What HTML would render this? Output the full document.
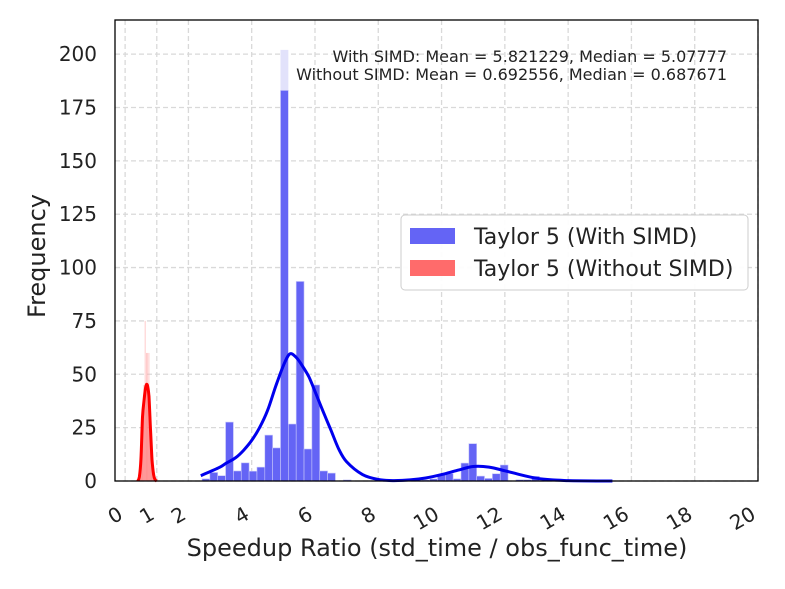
<!DOCTYPE html>
<html><head><meta charset="utf-8">
<style>
html,body{margin:0;padding:0;background:#fff;}
svg{display:block;font-family:"DejaVu Sans","Liberation Sans",sans-serif;}
</style></head>
<body>
<svg id="chart" width="785" height="589" viewBox="0 0 785 589" xmlns="http://www.w3.org/2000/svg"></svg>
<script>
const xTicks = [0,1,2,4,6,8,10,12,14,16,18,20];
const yTicks = [0,25,50,75,100,125,150,175,200];
const blueBinStart = 2.43;
const blueBinWidth = 0.248;
const blueCounts = [1,4,2.5,27.6,4.7,8.5,4.6,6.5,21.5,15.5,183,26.7,93.5,15,45,4.7,3.7,0,0.5,0,0,0,0,0,0,0,0,0,0.5,1,3,3.5,1,8.4,17.5,2.3,1.2,3.4,7.5,0,0.6,0.6,2.2,0.3];
const blueOverlayIndex = [10];
const blueOverlayValue = [202];
const redBinStart = 0.42;
const redBinWidth = 0.04;
const redCounts = [0,2,8,25,45,75,60,60,60,40,20,6,1,0];
const blueKdeX = [2.39,2.7,3.0,3.2,3.5,3.75,4.0,4.25,4.5,4.75,5.0,5.2,5.4,5.6,5.8,6.0,6.3,6.5,6.75,7.0,7.5,8.0,8.5,9.0,9.5,10.0,10.5,11.0,11.5,12.0,12.5,13.0,13.5,14.0,14.5,15.4];
const blueKdeY = [2.5,4.5,6.5,8.4,11,14.5,19,25,33,44,54,59.5,58,54,49,42,31,24,15,9,3,0.7,0.2,0.5,1.4,3,5,6.8,6.5,4.8,2.9,1.3,0.5,0.2,0.05,0];
const redKdeX = [0.4,0.45,0.5,0.55,0.6,0.65,0.7,0.75,0.8,0.85,0.9,0.95,1.0];
const redKdeY = [0,2,10,30,38,44,45,40,25,10,3,0.5,0];
const annotations = ["With SIMD: Mean = 5.821229, Median = 5.07777","Without SIMD: Mean = 0.692556, Median = 0.687671"];
const legendLabels = ["Taylor 5 (With SIMD)","Taylor 5 (Without SIMD)"];

const NS="http://www.w3.org/2000/svg";
const svg=document.getElementById('chart');
const L=115,R=758,T=20,B=481;
const xMin=-0.32,xMax=20,yMin=0,yMax=216;
const sx=v=>L+(v-xMin)/(xMax-xMin)*(R-L);
const sy=v=>B-(v-yMin)/(yMax-yMin)*(B-T);
function mk(tag,attrs,parent){const e=document.createElementNS(NS,tag);for(const k in attrs)e.setAttribute(k,attrs[k]);(parent||svg).appendChild(e);return e;}
function smooth(xs,ys){const p=xs.map((x,i)=>[sx(x),sy(ys[i])]);let d='M'+p[0][0].toFixed(1)+','+p[0][1].toFixed(1);
for(let i=0;i<p.length-1;i++){const p0=p[i-1]||p[i],p1=p[i],p2=p[i+1],p3=p[i+2]||p2;
const c1=[p1[0]+(p2[0]-p0[0])/6,p1[1]+(p2[1]-p0[1])/6],c2=[p2[0]-(p3[0]-p1[0])/6,p2[1]-(p3[1]-p1[1])/6];
d+=' C'+c1.map(v=>v.toFixed(1)).join(',')+' '+c2.map(v=>v.toFixed(1)).join(',')+' '+p2[0].toFixed(1)+','+p2[1].toFixed(1);}return d;}

const grid=mk('g',{});


xTicks.forEach(t=>{const l=mk('line',{x1:sx(t),x2:sx(t),y1:T,y2:B,stroke:'#d9d9d9','stroke-width':1.3,'stroke-dasharray':'5,3'},grid);

});
yTicks.forEach(t=>{const l=mk('line',{x1:L,x2:R,y1:sy(t),y2:sy(t),stroke:'#d9d9d9','stroke-width':1.3,'stroke-dasharray':'5,3'},grid);

});

const bg=mk('g',{});


blueOverlayIndex.forEach((idx,k)=>{const x0=blueBinStart+idx*blueBinWidth;
const r=mk('rect',{x:sx(x0),y:sy(blueOverlayValue[k]),width:sx(x0+blueBinWidth)-sx(x0),height:B-sy(blueOverlayValue[k]),fill:'#e2e2fb'},bg);

});
blueCounts.forEach((c,i)=>{if(c<=0)return;const x0=blueBinStart+i*blueBinWidth;
const r=mk('rect',{x:sx(x0),y:sy(c),width:sx(x0+blueBinWidth)-sx(x0),height:B-sy(c),fill:'#6464f5',stroke:'#c8c8fa','stroke-width':0.6},bg);

});

const rg=mk('g',{});


redCounts.forEach((c,i)=>{if(c<=0)return;const x0=redBinStart+i*redBinWidth;
const r=mk('rect',{x:sx(x0),y:sy(c),width:Math.max(0.8,(sx(x0+redBinWidth)-sx(x0))*0.6),height:B-sy(c),fill:'#ffb0b0',opacity:0.8},rg);

});

const rp=smooth(redKdeX,redKdeY);
const rf=mk('path',{d:rp+' L'+sx(redKdeX[redKdeX.length-1])+','+B+' L'+sx(redKdeX[0])+','+B+' Z',fill:'#ff6b6b',opacity:0.6});


const rl=mk('path',{d:rp,fill:'none',stroke:'#ff0000','stroke-width':3});



const bl=mk('path',{d:smooth(blueKdeX,blueKdeY),fill:'none',stroke:'#0000ee','stroke-width':3,'stroke-linejoin':'round'});



const fr=mk('rect',{x:L,y:T,width:R-L,height:B-T,fill:'none',stroke:'#000','stroke-width':1.3});



xTicks.forEach(t=>{const tx=mk('text',{x:0,y:0,'font-size':20,'text-anchor':'end',fill:'#222',transform:`translate(${sx(t)-1},${B+37}) rotate(-30)`});tx.textContent=t;

});
yTicks.forEach(t=>{const tx=mk('text',{x:L-18,y:sy(t)+7,'font-size':20,'text-anchor':'end',fill:'#222'});tx.textContent=t;

});

const xt=mk('text',{x:437,y:556,'font-size':24,'text-anchor':'middle',fill:'#222'});xt.textContent='Speedup Ratio (std_time / obs_func_time)';


const yt=mk('text',{x:0,y:0,'font-size':24,'text-anchor':'middle',fill:'#222',transform:'translate(45,256) rotate(-90)'});yt.textContent='Frequency';



annotations.forEach((a,i)=>{const tx=mk('text',{x:727,y:62+i*18,'font-size':16,'text-anchor':'end',fill:'#222'});tx.textContent=a;

});

const lg=mk('g',{});


mk('rect',{x:401,y:215,width:347,height:75,rx:4,fill:'#fff',stroke:'#ccc','stroke-width':1,opacity:0.95},lg);
const cols=['#6464f5','#ff6b6b'];
legendLabels.forEach((lab,i)=>{const y=228+i*32;
const sw=mk('rect',{x:410,y:y,width:45,height:16,fill:cols[i]},lg);


const tx=mk('text',{x:474,y:y+16,'font-size':22,fill:'#222'},lg);tx.textContent=lab;

});
</script>
</body></html>
